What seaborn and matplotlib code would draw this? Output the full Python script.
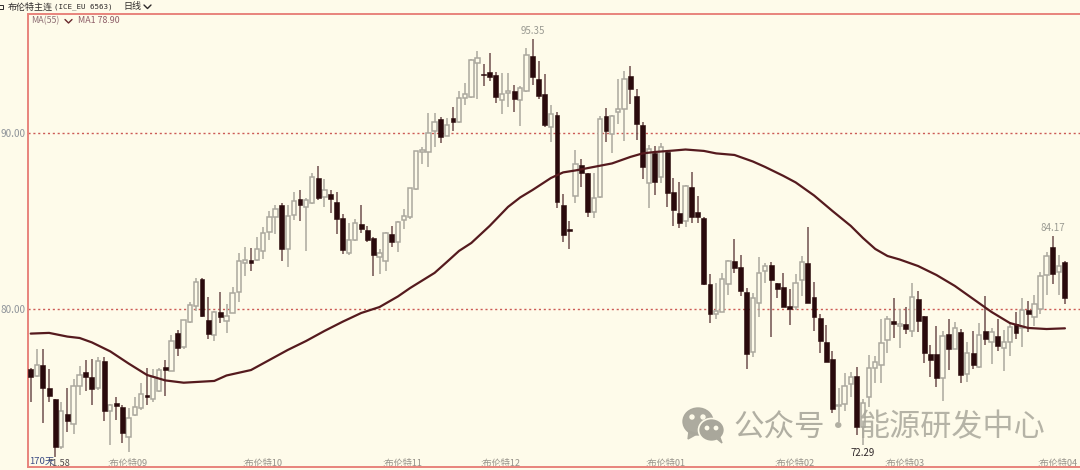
import pandas as pd
import seaborn as sns
import matplotlib
matplotlib.use("Agg")
import matplotlib.pyplot as plt
from matplotlib.patches import Ellipse, Polygon, Rectangle
from matplotlib.transforms import Affine2D

opens = [
	76.59, 76.21, 76.80, 75.53, 74.89, 72.14, 74.03, 73.47, 75.64, 76.40,
	76.13, 75.51, 77.06, 74.22, 74.64, 74.45, 72.71, 73.98, 74.36, 75.13,
	74.89, 75.34, 76.72, 76.49, 78.62, 77.82, 79.28, 80.17, 81.69, 79.38,
	78.52, 79.85, 79.34, 79.79, 80.98, 82.63, 82.80, 82.78, 83.27, 84.39,
	85.24, 85.91, 83.43, 85.32, 86.22, 85.81, 86.00, 87.43, 86.38, 86.55,
	86.10, 85.17, 83.17, 83.90, 84.83, 84.46, 84.02, 82.97, 82.74, 84.24,
	83.83, 85.06, 85.24, 86.83, 88.92, 88.94, 90.13, 90.80, 89.83, 90.85,
	90.60, 92.00, 92.02, 93.98, 93.36, 93.44, 93.28, 91.90, 92.29, 92.41,
	91.88, 92.40, 94.38, 93.08, 92.20, 90.36, 91.00, 85.91, 84.53, 86.44,
	88.16, 87.74, 85.53, 86.35, 90.95, 89.92, 91.20, 91.35, 93.25, 92.10,
	90.45, 87.14, 88.88, 87.48, 88.94, 86.66, 85.44, 85.02, 86.95, 85.53,
	85.15, 81.42, 79.72, 79.83, 81.42, 82.71, 82.40, 80.98, 77.57, 80.32,
	82.14, 82.50, 81.46, 81.27, 80.17, 80.13, 81.65, 82.63, 80.66, 79.50,
	78.10, 77.14, 74.50, 74.60, 75.74, 76.20, 73.30, 74.98, 76.66, 76.80,
	78.24, 79.32, 79.03, 79.15, 78.77, 80.59, 79.60, 77.43, 77.43, 76.06,
	78.58, 77.73, 78.71, 76.29, 77.52, 76.69, 78.75, 78.14, 78.45, 77.77,
	78.14, 79.15, 78.94, 79.94, 79.56, 79.98, 81.93, 83.54, 82.09, 82.67]
closes = [
	76.12, 76.80, 75.53, 75.04, 72.14, 74.19, 73.62, 75.64, 76.27, 76.13,
	75.44, 77.06, 74.22, 74.57, 74.49, 72.94, 73.81, 74.41, 75.17, 74.98,
	76.15, 76.53, 76.53, 78.20, 77.77, 79.38, 80.23, 81.55, 79.60, 78.58,
	79.85, 79.53, 79.62, 80.89, 82.74, 82.78, 82.61, 83.43, 84.30, 85.24,
	85.66, 83.39, 85.28, 86.15, 85.93, 86.19, 87.52, 86.29, 86.74, 86.23,
	85.11, 83.36, 83.90, 84.87, 84.56, 83.90, 83.05, 83.20, 84.33, 83.83,
	84.94, 85.28, 86.85, 88.97, 89.03, 90.02, 90.63, 89.76, 90.47, 90.63,
	92.00, 92.20, 94.17, 94.28, 93.30, 93.18, 92.06, 92.20, 92.41, 91.95,
	92.54, 94.45, 93.16, 92.10, 90.45, 91.07, 86.08, 84.19, 84.45, 88.24,
	87.70, 85.53, 86.29, 90.81, 90.13, 90.95, 91.38, 93.08, 92.48, 90.50,
	88.08, 89.07, 87.23, 89.19, 86.57, 85.62, 84.87, 86.99, 85.21, 85.21,
	81.42, 79.72, 79.90, 81.70, 82.73, 82.35, 81.04, 77.44, 80.63, 82.06,
	82.43, 81.65, 81.14, 80.13, 80.00, 81.46, 82.65, 80.36, 79.56, 78.20,
	77.00, 74.30, 74.56, 75.64, 76.15, 73.31, 74.66, 76.63, 76.97, 78.05,
	79.41, 79.13, 79.15, 78.85, 80.70, 79.34, 77.48, 77.10, 76.06, 78.48,
	77.73, 78.94, 76.25, 77.48, 76.82, 78.50, 78.30, 78.67, 77.91, 78.11,
	79.00, 78.62, 79.94, 79.73, 80.27, 81.88, 83.03, 82.00, 82.44, 80.61]
highs = [
	76.65, 77.71, 77.71, 76.57, 74.90, 74.70, 75.49, 76.00, 76.76, 77.10,
	77.14, 77.29, 77.25, 74.60, 75.02, 74.55, 74.40, 75.00, 75.78, 76.63,
	76.60, 76.63, 77.10, 78.52, 78.80, 79.40, 80.41, 81.74, 81.74, 80.70,
	79.90, 80.95, 80.27, 81.23, 83.16, 83.50, 83.45, 84.11, 84.68, 85.59,
	85.91, 86.00, 85.90, 86.66, 86.76, 86.30, 87.71, 88.10, 87.36, 86.75,
	86.65, 85.40, 84.90, 85.10, 85.90, 84.70, 84.10, 83.40, 84.40, 84.70,
	85.00, 85.66, 86.90, 89.00, 89.22, 91.15, 91.12, 90.89, 90.84, 91.46,
	92.40, 92.85, 94.20, 94.66, 93.94, 94.56, 93.47, 93.42, 93.40, 92.73,
	92.67, 94.83, 95.35, 94.10, 93.33, 91.60, 91.20, 86.53, 84.98, 89.03,
	88.50, 87.75, 87.70, 90.97, 91.40, 91.00, 93.05, 93.50, 93.80, 92.48,
	90.64, 89.32, 89.26, 89.45, 89.00, 87.43, 87.23, 87.05, 87.80, 86.44,
	85.20, 81.99, 81.50, 82.03, 82.80, 83.96, 83.07, 81.18, 80.90, 82.94,
	82.60, 82.69, 81.50, 82.06, 81.14, 81.97, 83.00, 84.64, 81.55, 79.70,
	79.09, 77.63, 75.50, 76.35, 76.44, 76.69, 74.90, 77.39, 77.35, 79.41,
	79.60, 80.64, 80.00, 80.10, 81.46, 81.02, 79.62, 77.95, 79.05, 78.75,
	79.41, 79.28, 78.85, 78.14, 78.77, 79.20, 80.76, 78.90, 79.43, 78.80,
	79.25, 79.85, 80.60, 80.47, 80.80, 82.09, 83.22, 84.17, 83.07, 82.70]
lows = [
	74.73, 76.15, 73.54, 74.70, 71.58, 72.05, 73.03, 72.90, 75.11, 75.36,
	74.53, 75.40, 73.62, 72.29, 73.69, 72.37, 71.89, 73.90, 74.26, 74.55,
	74.73, 75.27, 75.06, 76.45, 77.30, 77.75, 79.20, 79.90, 79.56, 78.28,
	78.18, 79.19, 78.65, 79.75, 80.41, 81.90, 82.18, 82.70, 82.82, 83.92,
	84.24, 82.74, 82.37, 85.05, 85.00, 83.31, 85.95, 86.20, 85.80, 85.47,
	84.26, 83.13, 83.05, 83.85, 84.30, 83.83, 81.90, 81.97, 82.18, 83.50,
	83.25, 84.53, 85.10, 86.75, 88.24, 88.05, 89.22, 89.41, 89.80, 90.13,
	90.57, 91.57, 91.97, 91.95, 92.65, 92.97, 91.69, 91.06, 91.50, 91.20,
	90.40, 92.35, 92.73, 91.95, 90.32, 89.50, 85.72, 83.83, 83.43, 86.00,
	86.95, 85.24, 85.16, 86.30, 89.50, 88.87, 90.53, 89.55, 91.65, 89.60,
	87.37, 85.76, 86.48, 87.14, 85.78, 84.73, 84.59, 84.64, 84.87, 84.87,
	81.35, 79.22, 79.45, 79.80, 80.80, 82.03, 80.76, 76.60, 77.26, 79.56,
	81.46, 78.39, 80.60, 80.10, 79.09, 79.94, 80.74, 80.32, 78.75, 77.52,
	76.97, 74.11, 73.60, 74.22, 75.02, 72.84, 72.29, 74.45, 75.78, 75.78,
	77.52, 78.34, 77.80, 78.58, 78.39, 78.71, 76.91, 76.15, 75.59, 74.79,
	76.53, 77.70, 75.78, 75.84, 76.60, 76.65, 77.95, 76.88, 77.61, 76.49,
	77.35, 78.30, 77.82, 78.71, 79.03, 79.70, 80.80, 81.42, 80.80, 80.27]

# MA(55) every few candles
ma_days = [0, 3, 6, 8, 10, 13, 16, 19, 22, 25, 30, 32, 36, 39, 42, 45, 48, 51, 54, 57,
	60, 62, 64, 66, 68, 70, 72, 75, 78, 80, 82, 85, 87, 89, 92, 95, 98, 100, 102, 105,
	107, 110, 112, 115, 118, 120, 123, 125, 128, 131, 134, 136, 138, 140, 142, 145,
	148, 151, 154, 157, 160, 163, 166, 169]
ma_vals = [78.60, 78.64, 78.43, 78.35, 78.10, 77.59, 76.90, 76.25, 75.94, 75.81,
	75.91, 76.22, 76.53, 77.10, 77.67, 78.18, 78.75, 79.28, 79.77, 80.11,
	80.71, 81.19, 81.62, 82.05, 82.67, 83.30, 83.75, 84.72, 85.80, 86.34,
	86.76, 87.44, 87.76, 87.87, 88.07, 88.27, 88.64, 88.84, 88.92, 89.00,
	89.06, 88.98, 88.84, 88.75, 88.38, 88.07, 87.56, 87.19, 86.45, 85.57,
	84.72, 84.03, 83.41, 83.01, 82.81, 82.44, 81.93, 81.31, 80.57, 79.83,
	79.20, 78.92, 78.86, 78.90]

month_days = [13, 35, 58, 74, 101, 122, 140, 165]
month_labels = [":布伦特09", ":布伦特10", ":布伦特11", ":布伦特12",
	":布伦特01", ":布伦特02", ":布伦特03", ":布伦特04"]
price_ticks = [80, 90]
price_labels = ["80.00", "90.00"]

BG = "#FEFBEA"
RED = "#E8837B"
DARK = "#2A0A0C"
GREY = "#ABA89E"

sns.set_style("white")
plt.rcParams["font.family"] = ["Noto Sans CJK SC", "DejaVu Sans"]

df = pd.DataFrame({"day": range(len(opens)), "open": opens, "close": closes,
	"high": highs, "low": lows})
up = df[df["close"] >= df["open"]]
down = df[df["close"] < df["open"]]
ma = pd.DataFrame({"day": ma_days, "ma": ma_vals})

fig = plt.figure(figsize=(10.8, 4.7), dpi=100, facecolor=BG)
ax = fig.add_axes([28 / 1080, 3 / 470, 1052 / 1080, 453 / 470], facecolor=BG)

# Wicks first, so that the bodies cover them
ax.vlines(up["day"], up["low"], up["high"], color=GREY, lw=1.1, zorder=2)
ax.vlines(down["day"], down["low"], down["high"], color="#6F4F4E", lw=1.1, zorder=2)
ax.bar(up["day"], (up["close"] - up["open"]).clip(lower=0.05), bottom=up["open"],
	width=0.72, color=BG, edgecolor=GREY, linewidth=1.1, zorder=3)
ax.bar(down["day"], (down["open"] - down["close"]).clip(lower=0.05), bottom=down["close"],
	width=0.8, color=DARK, edgecolor=DARK, linewidth=0.4, zorder=3)
sns.lineplot(data=ma, x="day", y="ma", ax=ax, color="#551A1E", lw=1.6, zorder=4)

for d in price_ticks:
	ax.axhline(d, color="#CC5A55", lw=1.0, ls=(0, (1.5, 2.0)), zorder=1)

ax.set_xlim(-0.44, 171.46)
ax.set_ylim(71.02, 96.76)
ax.set_xlabel("")
ax.set_ylabel("")
ax.set_yticks(price_ticks, price_labels, fontsize=7.2, color="#8F949A")
ax.set_xticks(month_days, month_labels, fontsize=6.6, color="#96928A", ha="left")
ax.tick_params(axis="y", length=0, pad=2)
ax.tick_params(axis="x", length=0, pad=-5.5)
for lab in ax.get_xticklabels():
	lab.set_transform(lab.get_transform() + Affine2D().translate(-3, 0))

for s in ["left", "top", "bottom"]:
	ax.spines[s].set_color(RED)
	ax.spines[s].set_linewidth(1.4)
ax.spines["right"].set_visible(False)

# Extreme price labels over their candles
for d, col, dy in [(82, "#9A9A92", 3), (167, "#9A9A92", 3), (136, "#30282A", -13)]:
	val = highs[d] if dy > 0 else lows[d]
	ax.annotate(f"{val:.2f}", (d, val), xytext=(0, dy), textcoords="offset pixels",
		ha="center", va="bottom", fontsize=7, color=col, zorder=6)

# Overlay in pixel coordinates for the header and the watermark
ov = fig.add_axes([0, 0, 1, 1], facecolor="none")
ov.set_xlim(0, 1080)
ov.set_ylim(470, 0)
ov.axis("off")

def chevron(x, y, col):
	ov.plot([x, x + 3.5, x + 7], [y, y + 3.5, y], color=col, lw=1.0)

ov.add_patch(Rectangle((-1, 5), 4, 4, facecolor="none", edgecolor="#2E2A2A", lw=0.7))
ov.text(8, 7, "布伦特主连", fontsize=6.5, color="#2E2A2A", va="center")
ov.text(54, 7, "(ICE_EU 6563)", fontsize=5.4, color="#2E2A2A", va="center", family="DejaVu Sans Mono")
ov.text(123, 7, "日线", fontsize=6.5, color="#2E2A2A", va="center")
chevron(144, 5, "#2E2A2A")
ov.text(31, 20.5, "MA(55)", fontsize=6.4, color="#8E6E74", va="center")
chevron(65, 19.5, "#6A2A2E")
ov.text(78, 20.5, "MA1 78.90", fontsize=6.4, color="#8E5E68", va="center")
ov.text(29, 461, "170天", fontsize=6.8, color="#3C4C84", va="center")
ov.text(47.5, 463, "71.58", fontsize=6.6, color="#50484A", va="center", zorder=1)

# Watermark
WM = "#A9A79B"
ov.add_patch(Ellipse((698, 421.5), 30, 27, color=WM, alpha=0.95, zorder=7))
ov.add_patch(Polygon([[689, 431], [688, 439], [697, 434]], color=WM, alpha=0.95, zorder=7))
ov.add_patch(Ellipse((711.5, 430), 26, 23, facecolor=WM, edgecolor=BG, lw=1.2, zorder=8))
ov.add_patch(Polygon([[716, 438], [722, 443], [719, 435]], color=WM, zorder=8))
for x, y, r in [(692, 417, 4), (703, 417, 4), (707, 428, 3.4), (716, 428, 3.4)]:
	ov.add_patch(Ellipse((x, y), r, r, color=BG, zorder=9))
ov.text(733, 428, "公众号", fontsize=22, color=WM, va="center", alpha=0.9, zorder=7)
ov.text(838, 428, "·", fontsize=22, color=WM, va="center", ha="center", alpha=0.9, zorder=7)
ov.text(858, 428, "能源研发中心", fontsize=22.4, color=WM, va="center", alpha=0.85, zorder=7)

fig.savefig("out.png", dpi=100, facecolor=BG)
